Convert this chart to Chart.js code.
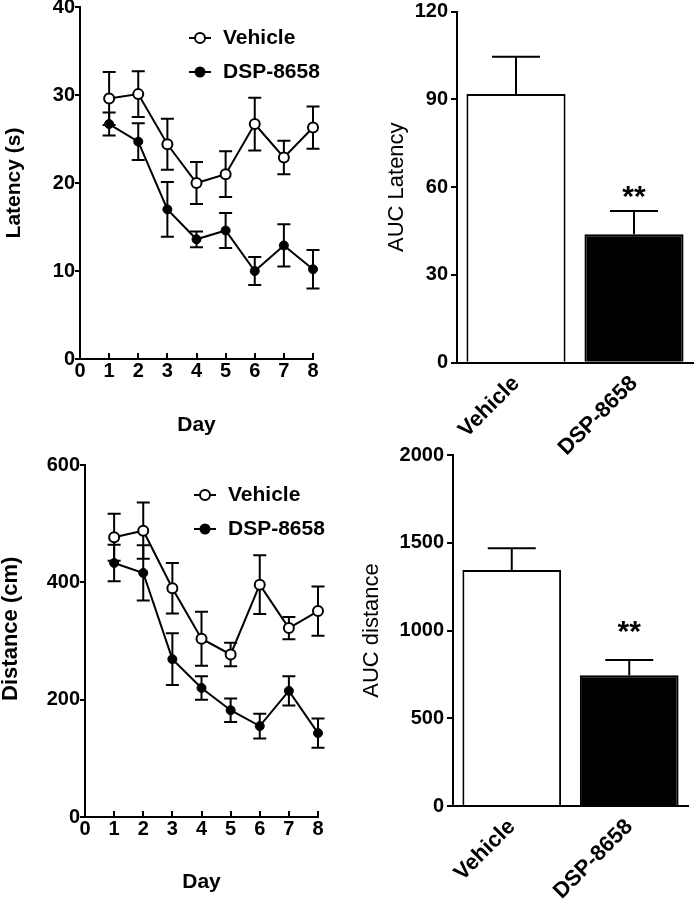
<!DOCTYPE html>
<html>
<head>
<meta charset="utf-8">
<script src="https://cdn.jsdelivr.net/npm/chart.js@4.4.1/dist/chart.umd.min.js"></script>
<style>
  html, body { margin: 0; padding: 0; background: #fff; }
  #wrap { position: relative; width: 695px; height: 899px; }
  canvas { position: absolute; left: 0; top: 0; }
</style>
</head>
<body>
<div id="wrap">
  <canvas id="latencyDays" width="695" height="899"></canvas>
  <canvas id="latencyAuc" width="695" height="899"></canvas>
  <canvas id="distanceDays" width="695" height="899"></canvas>
  <canvas id="distanceAuc" width="695" height="899"></canvas>
</div>
<script>
// data (mean and SEM)
const days = [1, 2, 3, 4, 5, 6, 7, 8];
const groups = ['Vehicle', 'DSP-8658'];

const latVehicle    = [29.6, 30.1, 24.4, 20.0, 21.0, 26.7, 22.9, 26.3];
const latVehicleErr = [3.0, 2.6, 2.9, 2.4, 2.6, 3.0, 1.9, 2.4];
const latDsp        = [26.7, 24.7, 17.0, 13.6, 14.6, 10.0, 12.9, 10.2];
const latDspErr     = [1.3, 2.1, 3.1, 0.9, 2.0, 1.6, 2.4, 2.2];

const distVehicle    = [477, 488, 390, 304, 277, 396, 322, 351];
const distVehicleErr = [40, 48, 43, 46, 20, 50, 19, 42];
const distDsp        = [433, 416, 269, 220, 182, 155, 215, 143];
const distDspErr     = [31, 47, 44, 20, 20, 21, 25, 25];

const aucLatency     = [91.9, 43.9];
const aucLatencyErr  = [12.7, 8.0];
const aucDistance    = [1345, 745];
const aucDistanceErr = [123, 87];
const aucSig = ['', '**'];

const FONT = '"Liberation Sans", Arial, Helvetica, sans-serif';
const W = 695, H = 899;

// scale box sizes fixed so the plot areas land where the figure has them
function fixBox(size) {
    return function(scale) {
        if (scale.isHorizontal()) scale.height = size;
        else scale.width = size;
        scale.paddingLeft = scale.paddingRight = scale.paddingTop = scale.paddingBottom = 0;
    };
}

function plainNumber(v) {
    return String(v);
}

function yValue(v) {
    return (typeof v === 'object') ? v.y : v;
}

function drawErrors(chart, opts) {
    const ctx = chart.ctx;
    const yScale = chart.scales.y;
    ctx.save();
    ctx.strokeStyle = '#000';
    ctx.lineWidth = 2;
    chart.data.datasets.forEach(function(ds, di) {
        const meta = chart.getDatasetMeta(di);
        meta.data.forEach(function(el, i) {
            const v = yValue(ds.data[i]);
            const e = ds.errors[i];
            const top = yScale.getPixelForValue(v + e);
            const bot = yScale.getPixelForValue(opts.upOnly ? v : v - e);
            ctx.beginPath();
            ctx.moveTo(el.x, top);
            ctx.lineTo(el.x, bot);
            ctx.moveTo(el.x - opts.cap, top);
            ctx.lineTo(el.x + opts.cap, top);
            if (!opts.upOnly) {
                ctx.moveTo(el.x - opts.cap, bot);
                ctx.lineTo(el.x + opts.cap, bot);
            }
            ctx.stroke();
        });
    });
    ctx.restore();
}

const errorBars = {
    id: 'errorBars',
    beforeDatasetsDraw(chart, args, opts) { if (!opts.upOnly) drawErrors(chart, opts); },
    afterDatasetsDraw(chart, args, opts) { if (opts.upOnly) drawErrors(chart, opts); }
};

// "-o- Vehicle" style legend inside the plot
const lineLegend = {
    id: 'lineLegend',
    afterDraw(chart, args, opts) {
        const ctx = chart.ctx;
        ctx.save();
        chart.data.datasets.forEach(function(ds, i) {
            const x = opts.x, y = opts.y + i * opts.step;
            ctx.strokeStyle = '#000';
            ctx.lineWidth = 2;
            ctx.beginPath();
            ctx.moveTo(x - 11, y);
            ctx.lineTo(x + 11, y);
            ctx.stroke();
            ctx.beginPath();
            ctx.arc(x, y, ds.pointRadius, 0, Math.PI * 2);
            ctx.fillStyle = ds.pointBackgroundColor;
            ctx.fill();
            ctx.stroke();
            ctx.fillStyle = '#000';
            ctx.font = 'bold 21px ' + FONT;
            ctx.textBaseline = 'middle';
            ctx.textAlign = 'left';
            ctx.fillText(ds.label, x + opts.textGap, y);
        });
        ctx.restore();
    }
};

const sigMarks = {
    id: 'sigMarks',
    afterDatasetsDraw(chart, args, opts) {
        const ctx = chart.ctx;
        const ds = chart.data.datasets[0];
        const meta = chart.getDatasetMeta(0);
        ctx.save();
        ctx.fillStyle = '#000';
        ctx.font = 'bold 30px ' + FONT;
        ctx.textAlign = 'center';
        ctx.textBaseline = 'alphabetic';
        meta.data.forEach(function(el, i) {
            if (!opts.labels[i]) return;
            const top = chart.scales.y.getPixelForValue(ds.data[i] + ds.errors[i]);
            ctx.fillText(opts.labels[i], el.x, top - opts.gap);
        });
        ctx.restore();
    }
};

function lineChart(id, c) {
    const a = c.area;
    const titleLH = c.titleSize * 1.2;
    return new Chart(document.getElementById(id), {
        type: 'line',
        data: {
            datasets: [{
                label: groups[0],
                data: days.map((d, i) => ({ x: d, y: c.veh[i] })),
                errors: c.vehErr,
                borderColor: '#000',
                borderWidth: 2,
                pointRadius: 5,
                pointBackgroundColor: '#fff',
                pointBorderColor: '#000',
                pointBorderWidth: 2,
                tension: 0,
                clip: false
            }, {
                label: groups[1],
                data: days.map((d, i) => ({ x: d, y: c.dsp[i] })),
                errors: c.dspErr,
                borderColor: '#000',
                borderWidth: 2,
                pointRadius: 4.5,
                pointBackgroundColor: '#000',
                pointBorderColor: '#000',
                pointBorderWidth: 1,
                tension: 0,
                clip: false
            }]
        },
        options: {
            responsive: false,
            animation: false,
            devicePixelRatio: 1,
            layout: { padding: { left: a.l - a.yW, right: W - a.r, top: a.t, bottom: H - a.b - a.xH } },
            scales: {
                x: {
                    type: 'linear', min: 0, max: 8,
                    afterFit: fixBox(a.xH),
                    border: { color: '#000', width: 2 },
                    grid: { drawOnChartArea: false, color: '#000', lineWidth: 2, tickLength: -6 },
                    ticks: { stepSize: 1, color: '#000', padding: c.xPad, font: { family: FONT, size: 20, weight: 'bold' } },
                    title: {
                        display: true, text: 'Day', color: '#000',
                        font: { family: FONT, size: 21, weight: 'bold' },
                        padding: { top: 0, bottom: (a.b + a.xH - c.xTitle) - 12.6 }
                    }
                },
                y: {
                    min: 0, max: c.yMax,
                    afterFit: fixBox(a.yW),
                    border: { color: '#000', width: 2 },
                    grid: { drawOnChartArea: false, color: '#000', lineWidth: 2, tickLength: 5 },
                    ticks: { stepSize: c.yStep, color: '#000', padding: 0, callback: plainNumber, font: { family: FONT, size: 20, weight: 'bold' } },
                    title: {
                        display: true, text: c.yTitle, color: '#000',
                        font: { family: FONT, size: c.titleSize, weight: 'bold' },
                        padding: { top: (c.yTitleX - (a.l - a.yW)) - titleLH / 2, bottom: 0 }
                    }
                }
            },
            plugins: {
                legend: { display: false },
                tooltip: { enabled: false },
                errorBars: { cap: 6.5, upOnly: false },
                lineLegend: c.legend
            }
        },
        plugins: [errorBars, lineLegend]
    });
}

function barChart(id, c) {
    const a = c.area;
    return new Chart(document.getElementById(id), {
        type: 'bar',
        data: {
            labels: groups,
            datasets: [{
                data: c.vals,
                errors: c.errs,
                backgroundColor: ['#fff', '#000'],
                borderColor: '#000',
                borderWidth: 2,
                barPercentage: 0.84,
                categoryPercentage: 1
            }]
        },
        options: {
            responsive: false,
            animation: false,
            devicePixelRatio: 1,
            layout: { padding: { left: a.l - a.yW, right: W - a.r, top: a.t, bottom: H - a.b - a.xH } },
            scales: {
                x: {
                    afterFit: fixBox(a.xH),
                    border: { color: '#000', width: 2 },
                    grid: { drawOnChartArea: false, drawTicks: false },
                    ticks: { minRotation: 45, maxRotation: 45, color: '#000', padding: 8, font: { family: FONT, size: 22, weight: 'bold' } }
                },
                y: {
                    min: 0, max: c.yMax,
                    afterFit: fixBox(a.yW),
                    border: { color: '#000', width: 2 },
                    grid: { drawOnChartArea: false, color: '#000', lineWidth: 2, tickLength: 6 },
                    ticks: { stepSize: c.yStep, color: '#000', padding: 3, callback: plainNumber, font: { family: FONT, size: 20, weight: 'bold' } },
                    title: {
                        display: true, text: c.yTitle, color: '#000',
                        font: { family: FONT, size: 22 },
                        padding: { top: (c.yTitleX - (a.l - a.yW)) - 13.2, bottom: 0 }
                    }
                }
            },
            plugins: {
                legend: { display: false },
                tooltip: { enabled: false },
                errorBars: { cap: 24, upOnly: true },
                sigMarks: { labels: aucSig, gap: c.sigGap }
            }
        },
        plugins: [errorBars, sigMarks]
    });
}

lineChart('latencyDays', {
    area: { l: 80, r: 313, t: 7, b: 359, yW: 80, xH: 91 },
    veh: latVehicle, vehErr: latVehicleErr, dsp: latDsp, dspErr: latDspErr,
    yMax: 40, yStep: 10, yTitle: 'Latency (s)', titleSize: 21,
    yTitleX: 14, xTitle: 425.7, xPad: 6.7,
    legend: { x: 200, y: 38, step: 34, textGap: 23 }
});

barChart('latencyAuc', {
    area: { l: 457, r: 693, t: 11.7, b: 362.7, yW: 80, xH: 110 },
    vals: aucLatency, errs: aucLatencyErr,
    yMax: 120, yStep: 30, yTitle: 'AUC Latency', yTitleX: 397, sigGap: 5
});

lineChart('distanceDays', {
    area: { l: 85, r: 318, t: 465, b: 817, yW: 85, xH: 82 },
    veh: distVehicle, vehErr: distVehicleErr, dsp: distDsp, dspErr: distDspErr,
    yMax: 600, yStep: 200, yTitle: '    Distance (cm)', titleSize: 22,
    yTitleX: 11, xTitle: 882, xPad: 6.5,
    legend: { x: 205, y: 495, step: 34, textGap: 23 }
});

barChart('distanceAuc', {
    area: { l: 453, r: 688, t: 455, b: 806, yW: 100, xH: 93 },
    vals: aucDistance, errs: aucDistanceErr,
    yMax: 2000, yStep: 500, yTitle: 'AUC distance', yTitleX: 372, sigGap: 19
});
</script>
</body>
</html>
